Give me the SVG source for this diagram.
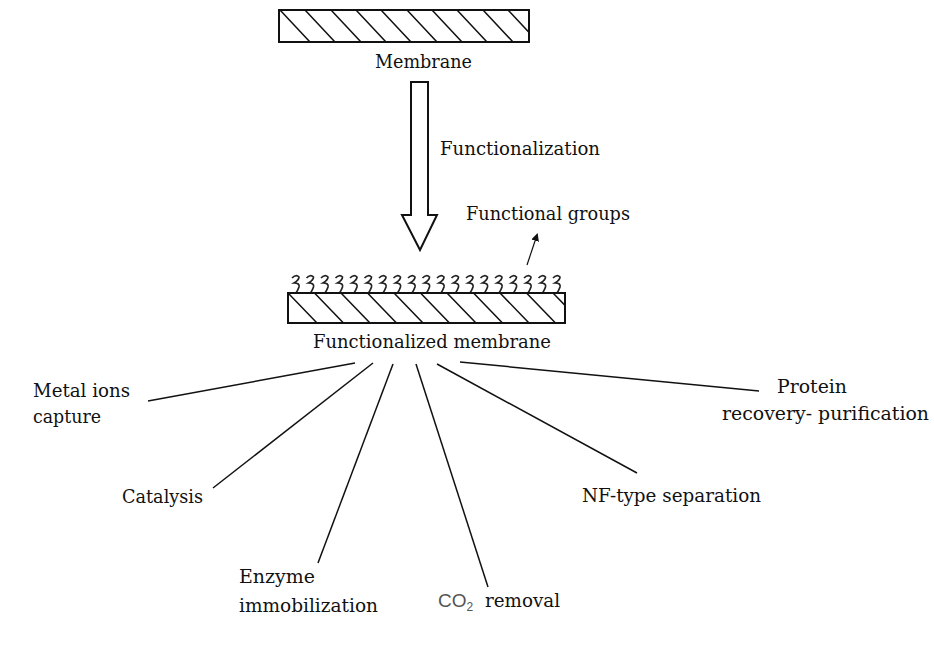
<svg xmlns="http://www.w3.org/2000/svg" width="934" height="659" viewBox="0 0 934 659">
<style>
.t{font-family:'DejaVu Serif','Liberation Serif',serif;font-size:19px;fill:#111}
.b{fill:#fff;stroke:#111;stroke-width:2}
.h{stroke:#111;stroke-width:1.5;fill:none}
.c{stroke:#111;stroke-width:1.5;fill:none}
.s{stroke:#222;stroke-width:1.7;fill:none}
</style>
<defs>
<clipPath id="cp1"><rect x="279" y="10" width="250" height="32"/></clipPath>
<clipPath id="cp2"><rect x="288" y="293" width="277" height="30"/></clipPath>
<path id="sq" class="s" d="M-4,278 Q0,274 3,277 Q3,280 -2,283 Q4,283 3,287 Q2,290 0,293"/>
<marker id="ah" markerWidth="8" markerHeight="8" refX="6" refY="4" orient="auto" markerUnits="userSpaceOnUse">
<path d="M0,0 L8,4 L0,8 z" fill="#111"/>
</marker>
</defs>
<rect width="934" height="659" fill="#fff"/>

<g id="membrane">
<rect class="b" x="279" y="10" width="250" height="32"/>
<g clip-path="url(#cp1)" class="h">
<path d="M280,10 l30,32 M305,10 l30,32 M331,10 l30,32 M356,10 l30,32 M381,10 l30,32 M407,10 l30,32 M432,10 l30,32 M457,10 l30,32 M483,10 l30,32 M508,10 l30,32"/>
</g>
<text class="t" x="375" y="68" textLength="97" lengthAdjust="spacingAndGlyphs">Membrane</text>
</g>

<g id="functionalization">
<path d="M411,82 L428,82 L428,215 L437,215 L420,250 L402,215 L411,215 Z" fill="#fff" stroke="#111" stroke-width="2" stroke-linejoin="miter"/>
<text class="t" x="440" y="155" textLength="160" lengthAdjust="spacingAndGlyphs">Functionalization</text>
</g>

<g id="functional-groups">
<text class="t" x="466" y="220" textLength="164" lengthAdjust="spacingAndGlyphs">Functional groups</text>
</g>

<g id="functionalized-membrane">
<g>
<use href="#sq" x="296"/><use href="#sq" x="310.5"/><use href="#sq" x="325"/><use href="#sq" x="339.5"/><use href="#sq" x="354"/><use href="#sq" x="368.5"/><use href="#sq" x="383"/><use href="#sq" x="397.5"/><use href="#sq" x="412"/><use href="#sq" x="426.5"/><use href="#sq" x="441"/><use href="#sq" x="455.5"/><use href="#sq" x="470"/><use href="#sq" x="484.5"/><use href="#sq" x="499"/><use href="#sq" x="513.5"/><use href="#sq" x="528"/><use href="#sq" x="542.5"/><use href="#sq" x="557"/>
</g>
<rect class="b" x="288" y="293" width="277" height="30"/>
<g clip-path="url(#cp2)" class="h">
<path d="M288,293 l29,30 M314.5,293 l29,30 M341,293 l29,30 M367.5,293 l29,30 M394,293 l29,30 M420.5,293 l29,30 M447,293 l29,30 M473.5,293 l29,30 M500,293 l29,30 M526.5,293 l29,30 M553,293 l29,30"/>
</g>
<text class="t" x="313" y="348" textLength="238" lengthAdjust="spacingAndGlyphs">Functionalized membrane</text>
</g>

<g id="metal-ions">
<text class="t" x="33" y="397" textLength="97" lengthAdjust="spacingAndGlyphs">Metal ions</text>
<text class="t" x="33" y="423" textLength="68" lengthAdjust="spacingAndGlyphs">capture</text>
</g>
<g id="catalysis">
<text class="t" x="122" y="503" textLength="81" lengthAdjust="spacingAndGlyphs">Catalysis</text>
</g>
<g id="enzyme">
<text class="t" x="239" y="583" textLength="76" lengthAdjust="spacingAndGlyphs">Enzyme</text>
<text class="t" x="239" y="612" textLength="139" lengthAdjust="spacingAndGlyphs">immobilization</text>
</g>
<g id="co2">
<text x="438" y="607" font-family="Liberation Sans, Arial, sans-serif" font-size="19" fill="#555">CO<tspan font-size="12" dy="4">2</tspan></text>
<text class="t" x="485" y="607" textLength="75" lengthAdjust="spacingAndGlyphs">removal</text>
</g>
<g id="nf">
<text class="t" x="582" y="502" textLength="179" lengthAdjust="spacingAndGlyphs">NF-type separation</text>
</g>
<g id="protein">
<text class="t" x="777" y="393" textLength="70" lengthAdjust="spacingAndGlyphs">Protein</text>
<text class="t" x="722" y="420" textLength="207" lengthAdjust="spacingAndGlyphs">recovery-  purification</text>
</g>

<g id="connectors" class="c">
<path d="M527,265 L537,235" stroke-width="1.2" marker-end="url(#ah)"/>
<path d="M148,401 L355,363"/>
<path d="M213,488 L373,363"/>
<path d="M318,563 L393,364"/>
<path d="M416,364 L488,587"/>
<path d="M437,364 L637,473"/>
<path d="M460,362 L759,391"/>
</g>
</svg>
